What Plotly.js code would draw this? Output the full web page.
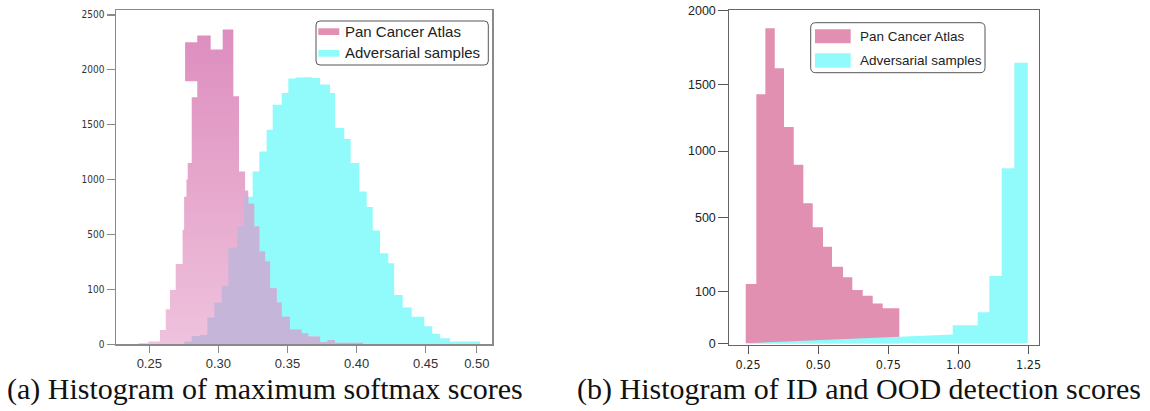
<!DOCTYPE html>
<html>
<head>
<meta charset="utf-8">
<script src="https://cdn.plot.ly/plotly-3.0.1.min.js"></script>
<style>html,body{margin:0;padding:0;background:#fff;}</style>
</head>
<body>
<div id="chart" style="width:1150px;height:411px;"></div>
<script>
// ---------- (a) maximum softmax scores ----------
// Pan Cancer Atlas: bin edges and counts
const softmaxPanEdges = [0.2420, 0.2493, 0.2577, 0.2619, 0.2650, 0.2691, 0.2741, 0.2752, 0.2769, 0.2778,
  0.2807, 0.2847, 0.2944, 0.3031, 0.3108, 0.3149, 0.3193, 0.3216, 0.3259, 0.3296,
  0.3338, 0.3374, 0.3422, 0.3458, 0.3518, 0.3602, 0.3650, 0.3736, 0.3789, 0.3844, 0.4046];
const softmaxPanCounts = [2, 5, 26, 64, 99, 286, 543, 845, 1000, 1151,
  1750, 2313, 2185, 2368, 1759, 1075, 900, 780, 573, 376,
  303, 109, 76, 50, 27, 20, 14, 4, 8, 3];
// detached upper block of the Pan Cancer Atlas peak
const softmaxPanBlockEdges = [0.2759, 0.2847];
const softmaxPanBlockCounts = [1896, 2252];

// Adversarial samples: bin edges and counts
const softmaxAdvEdges = [0.2753, 0.2807, 0.2867, 0.2920, 0.2971, 0.3024, 0.3072, 0.3137, 0.3185, 0.3248,
  0.3296, 0.3349, 0.3393, 0.3458, 0.3506, 0.3560, 0.3620, 0.3680, 0.3736, 0.3808,
  0.3844, 0.3911, 0.3957, 0.4020, 0.4073, 0.4117, 0.4170, 0.4229, 0.4272, 0.4334,
  0.4399, 0.4490, 0.4548, 0.4603, 0.4676, 0.4894];
const softmaxAdvCounts = [5, 15, 17, 49, 76, 126, 405, 573, 845, 1075,
  1257, 1455, 1683, 1790, 1921, 1930, 1932, 1925, 1866, 1790,
  1471, 1371, 1151, 892, 750, 537, 364, 291, 90, 67,
  50, 33, 19, 11, 5];

const softmaxCountTicks = [0, 100, 500, 1000, 1500, 2000, 2500];
const softmaxScoreTickVals = [0.25, 0.30, 0.35, 0.40, 0.45, 0.487];
const softmaxScoreTickText = ['0.25', '0.30', '0.35', '0.40', '0.45', '0.50'];

// ---------- (b) ID and OOD detection scores ----------
const detPanEdges = [0.2418, 0.2796, 0.3117, 0.3452, 0.3783, 0.4129, 0.4471, 0.4806, 0.5173, 0.5494,
  0.5886, 0.6217, 0.6588, 0.6944, 0.7300, 0.7892];
const detPanCounts = [141, 1425, 1880, 1609, 1180, 897, 608, 448, 343, 235, 178, 109, 92, 77, 68];

// first interval is a sparse run that rises gradually to the next bin
const detAdvEdges = [0.2418, 0.9795, 1.0686, 1.1100, 1.1540, 1.1990, 1.2470];
const detAdvCounts = [17, 35, 60, 185, 870, 1647];

const detCountTicks = [0, 100, 500, 1000, 1500, 2000];
const detScoreTicks = [0.25, 0.50, 0.75, 1.00, 1.25];
const detScoreTickText = ['0.25', '0.50', '0.75', '1.00', '1.25'];

// ---------- count axes: piecewise-linear between labelled counts ----------
const softmaxCountPos = [0, 1, 2, 3, 4, 5, 6];
const detCountPos = [0, 51.6, 125.6, 192.3, 259, 332.6];

function piecewise(knots, pos) {
  return c => {
    for (let i = 0; i < knots.length - 1; i++) {
      if (c <= knots[i + 1] || i === knots.length - 2) {
        return pos[i] + (c - knots[i]) / (knots[i + 1] - knots[i]) * (pos[i + 1] - pos[i]);
      }
    }
  };
}
const softmaxY = piecewise(softmaxCountTicks, softmaxCountPos);
const detY = piecewise(detCountTicks, detCountPos);

function valueAt(edges, counts, x) {
  for (let i = 0; i < counts.length; i++) {
    if (x >= edges[i] && x < edges[i + 1]) return counts[i];
  }
  return 0;
}

// closed step outline of a histogram; optional ramp for the first interval
function outline(edges, counts, scale, rampFirst) {
  const xs = [edges[0]], ys = [scale(0)];
  counts.forEach((c, i) => {
    if (!(rampFirst && i === 0)) { xs.push(edges[i]); ys.push(scale(c)); }
    xs.push(edges[i + 1]); ys.push(scale(c));
  });
  xs.push(edges[edges.length - 1]); ys.push(scale(0));
  return { xs, ys };
}

// where the two distributions overlap: the lower of the two counts
function overlap(eA, cA, eB, cB) {
  const pts = Array.from(new Set([...eA, ...eB])).sort((a, b) => a - b);
  const counts = [];
  for (let i = 0; i < pts.length - 1; i++) {
    const m = (pts[i] + pts[i + 1]) / 2;
    counts.push(Math.min(valueAt(eA, cA, m), valueAt(eB, cB, m)));
  }
  return { edges: pts, counts };
}

const PINK_A = '#e08fbd', CYAN = '#91fbfb', LAVENDER = '#c5b5d8';
const PINK_B = '#e190b1';

const advA = outline(softmaxAdvEdges, softmaxAdvCounts, softmaxY);
const panA = outline(softmaxPanEdges, softmaxPanCounts, softmaxY);
const b0 = softmaxY(softmaxPanBlockCounts[0]), b1 = softmaxY(softmaxPanBlockCounts[1]);
const e0 = softmaxPanBlockEdges[0], e1 = softmaxPanBlockEdges[1];
panA.xs.push(null, e0, e0, e1, e1, e0);
panA.ys.push(null, b0, b1, b1, b0, b0);
const ov = overlap(softmaxPanEdges, softmaxPanCounts, softmaxAdvEdges, softmaxAdvCounts);
const ovA = outline(ov.edges, ov.counts, softmaxY);

const panB = outline(detPanEdges, detPanCounts, detY);
const advB = outline(detAdvEdges, detAdvCounts, detY, true);

const base = { type: 'scatter', mode: 'lines', line: { width: 0 }, hoverinfo: 'skip', showlegend: false };

const traces = [
  Object.assign({}, base, { name: 'Adversarial samples', x: advA.xs, y: advA.ys, fill: 'toself', fillcolor: CYAN, xaxis: 'x', yaxis: 'y' }),
  Object.assign({}, base, { name: 'Pan Cancer Atlas', x: panA.xs, y: panA.ys, fill: 'toself', fillcolor: PINK_A,
    fillgradient: { type: 'vertical', start: 0, stop: 6, colorscale: [[0, '#efc2dd'], [0.5, '#e6a6cc'], [1, '#dc8bbd']] },
    xaxis: 'x', yaxis: 'y' }),
  Object.assign({}, base, { name: 'overlap', x: ovA.xs, y: ovA.ys, fill: 'toself', fillcolor: LAVENDER, xaxis: 'x', yaxis: 'y' }),
  Object.assign({}, base, { name: 'Pan Cancer Atlas', x: panB.xs, y: panB.ys, fill: 'toself', fillcolor: PINK_B, xaxis: 'x2', yaxis: 'y2' }),
  Object.assign({}, base, { name: 'Adversarial samples', x: advB.xs, y: advB.ys, fill: 'toself', fillcolor: CYAN, xaxis: 'x2', yaxis: 'y2' })
];

const W = 1150, H = 411;
const X = p => p / W;
const Y = p => 1 - p / H;

function roundRect(x0, y0, x1, y1, r) {
  const rx = r / W, ry = r / H;
  const a = X(x0), b = X(x1), t = Y(y0), bt = Y(y1);
  return `M${a + rx},${t} L${b - rx},${t} Q${b},${t} ${b},${t - ry} L${b},${bt + ry} Q${b},${bt} ${b - rx},${bt} ` +
         `L${a + rx},${bt} Q${a},${bt} ${a},${bt + ry} L${a},${t - ry} Q${a},${t} ${a + rx},${t} Z`;
}
function rect(x0, y0, x1, y1, color) {
  return { type: 'rect', xref: 'paper', yref: 'paper', x0: X(x0), x1: X(x1), y0: Y(y1), y1: Y(y0),
    fillcolor: color, line: { width: 0 }, layer: 'above' };
}
function label(text, x, y, size, extra) {
  return Object.assign({ text, x: X(x), y: Y(y), xref: 'paper', yref: 'paper', xanchor: 'left', yanchor: 'middle',
    showarrow: false, borderpad: 0, font: { family: 'Liberation Sans, Arial, sans-serif', size, color: '#222' } }, extra || {});
}

const NARROW = 'Liberation Sans Narrow, DejaVu Sans Condensed, Arial Narrow, sans-serif';
const SANS = 'Liberation Sans, Arial, sans-serif';
const SERIF = 'Liberation Serif, DejaVu Serif, serif';

const layout = {
  width: W, height: H, autosize: false,
  margin: { l: 0, r: 0, t: 0, b: 0 },
  paper_bgcolor: '#fff', plot_bgcolor: '#fff',
  showlegend: false,
  xaxis: {
    domain: [X(116), X(492)], range: [0.2259, 0.498], anchor: 'y',
    tickvals: softmaxScoreTickVals, ticktext: softmaxScoreTickText,
    ticks: 'outside', ticklen: 7, tickwidth: 1.2, tickcolor: '#8a8a8a',
    showline: true, linecolor: '#8a8a8a', linewidth: 1.5, mirror: true,
    showgrid: false, zeroline: false,
    tickfont: { family: SANS, size: 13, color: '#333' }
  },
  yaxis: {
    domain: [Y(344.3), Y(10)], range: [0, 6.09], anchor: 'x',
    tickvals: softmaxCountPos, ticktext: softmaxCountTicks.map(String),
    ticks: 'outside', ticklen: 8, tickwidth: 1.2, tickcolor: '#8a8a8a',
    showline: true, linecolor: '#8a8a8a', linewidth: 1.5, mirror: true,
    showgrid: false, zeroline: false,
    tickfont: { family: NARROW, size: 10, color: '#333' }
  },
  xaxis2: {
    domain: [X(729.3), X(1039.3)], range: [0.1833, 1.288], anchor: 'y2',
    tickvals: detScoreTicks, ticktext: detScoreTickText,
    ticks: 'outside', ticklen: 8, tickwidth: 1, tickcolor: '#555',
    showline: true, linecolor: '#666', linewidth: 1, mirror: true,
    showgrid: false, zeroline: false,
    tickfont: { family: NARROW, size: 12.5, color: '#222' }
  },
  yaxis2: {
    domain: [Y(344.5), Y(9.5)], range: [-1.2, 333.8], anchor: 'x2',
    tickvals: detCountPos, ticktext: detCountTicks.map(String),
    ticks: 'outside', ticklen: 10, tickwidth: 1, tickcolor: '#555',
    showline: true, linecolor: '#666', linewidth: 1, mirror: true,
    showgrid: false, zeroline: false,
    tickfont: { family: SANS, size: 12.5, color: '#222' }
  },
  shapes: [
    { type: 'path', xref: 'paper', yref: 'paper', path: roundRect(316, 21, 488.3, 65, 4),
      fillcolor: '#fff', line: { color: '#555', width: 1 }, layer: 'above' },
    rect(318.3, 28.3, 339.3, 35, PINK_B),
    rect(318.3, 50, 339.3, 56.7, CYAN),
    { type: 'path', xref: 'paper', yref: 'paper', path: roundRect(810.7, 22.7, 985, 72.7, 5),
      fillcolor: '#fff', line: { color: '#555', width: 1 }, layer: 'above' },
    rect(815, 29.3, 850.7, 43.3, PINK_B),
    rect(815, 53.3, 850.7, 67.7, CYAN)
  ],
  annotations: [
    label('Pan Cancer Atlas', 344.3, 31, 15),
    label('Adversarial samples', 344.3, 52.5, 15),
    label('Pan Cancer Atlas', 859.3, 36.5, 13.5),
    label('Adversarial samples', 859.3, 60.5, 13.5),
    label('(a) Histogram of maximum softmax scores', 265, 389, 30,
      { xanchor: 'center', font: { family: SERIF, size: 30, color: '#111' } }),
    label('(b) Histogram of ID and OOD detection scores', 859, 389, 30,
      { xanchor: 'center', font: { family: SERIF, size: 30, color: '#111' } })
  ]
};

Plotly.newPlot('chart', traces, layout, { staticPlot: true, displayModeBar: false });
</script>
</body>
</html>
